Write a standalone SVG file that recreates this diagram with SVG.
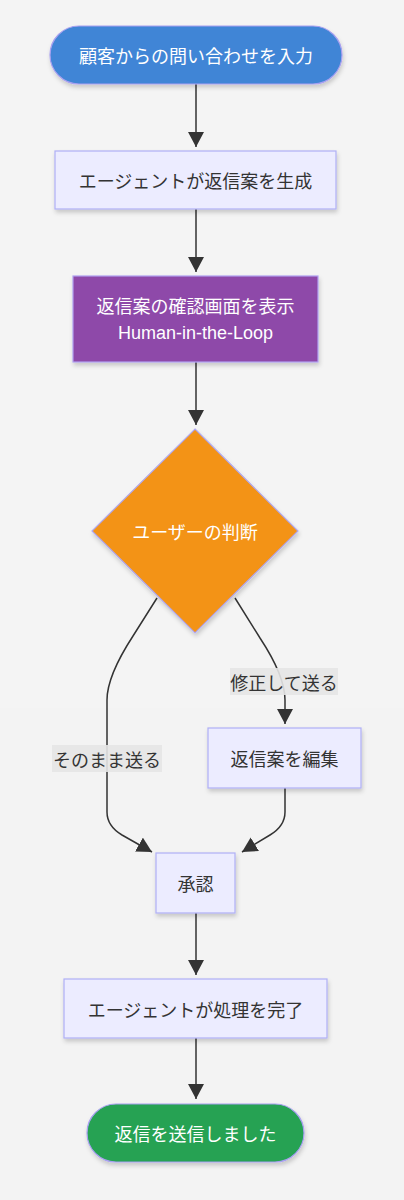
<svg xmlns="http://www.w3.org/2000/svg" width="404" height="1200" viewBox="0 0 404 1200">
<style>
.t{font-family:"Noto Sans CJK JP","Liberation Sans",sans-serif;font-size:18px;text-anchor:middle;dominant-baseline:central}
.lat{font-family:"Liberation Sans","Noto Sans CJK JP",sans-serif;font-size:18px;text-anchor:middle}
.dark{fill:#333333}
.light{fill:#ffffff}
.box{fill:#ececff;stroke:#b0b0f6;stroke-width:1.2}
.edge{fill:none;stroke:#333333;stroke-width:1.5}
.lbl{fill:#e6e6e6;opacity:0.9}
</style>
<defs>
<marker id="arr" markerUnits="userSpaceOnUse" markerWidth="15" markerHeight="16" viewBox="0 0 15 16" refX="15" refY="8" orient="auto">
<path d="M0,0 L15,8 L0,16 z" fill="#333333"/>
</marker>
<filter id="sh" x="-20%" y="-20%" width="140%" height="150%">
<feDropShadow dx="1" dy="3" stdDeviation="2" flood-color="#000" flood-opacity="0.18"/>
</filter>
</defs>
<rect x="0" y="0" width="404" height="708" fill="#f4f4f4"/>
<rect x="0" y="708" width="404" height="492" fill="#f3f3f3"/>

<g id="edges">
<path class="edge" d="M196,84 L196,147" marker-end="url(#arr)"/>
<path class="edge" d="M196,209 L196,272" marker-end="url(#arr)"/>
<path class="edge" d="M196,362 L196,425" marker-end="url(#arr)"/>
<path class="edge" d="M157,598 L133,636 Q107,676 107,700 L107,812 Q107,826 122,835 L152,852" marker-end="url(#arr)"/>
<path class="edge" d="M235,598 L260,638 Q285,676 285,700 L285,724" marker-end="url(#arr)"/>
<path class="edge" d="M285,788 L285,812 Q285,826 270,835 L242,852" marker-end="url(#arr)"/>
<path class="edge" d="M196,913 L196,975" marker-end="url(#arr)"/>
<path class="edge" d="M196,1038 L196,1099" marker-end="url(#arr)"/>
<g id="label-modify">
<rect class="lbl" x="230" y="668" width="108" height="27"/>
<text class="t dark" x="284" y="681.5">修正して送る</text>
</g>
<g id="label-asis">
<rect class="lbl" x="52" y="745" width="110" height="27"/>
<text class="t dark" x="107" y="758.5">そのまま送る</text>
</g>
</g>

<g id="n-input">
<rect x="50" y="26" width="292" height="58" rx="29" ry="29" fill="#4085d6" stroke="#a8a0f0" stroke-width="1.2" filter="url(#sh)"/>
<text class="t light" x="196" y="55">顧客からの問い合わせを入力</text>
</g>

<g id="n-generate">
<rect class="box" x="55" y="151" width="281" height="58" filter="url(#sh)"/>
<text class="t dark" x="195.5" y="180">エージェントが返信案を生成</text>
</g>

<g id="n-review">
<rect x="73" y="276" width="245" height="86" fill="#8e4aa9" stroke="#b0a0f0" stroke-width="1.2" filter="url(#sh)"/>
<text class="t light" x="195.5" y="305">返信案の確認画面を表示</text>
<text class="lat light" x="195.5" y="339">Human-in-the-Loop</text>
</g>

<g id="n-decision">
<polygon points="195,429 298,531 195,633 92,531" fill="#f39316" stroke="#b0a8f0" stroke-width="1.2" filter="url(#sh)"/>
<text class="t light" x="195" y="531">ユーザーの判断</text>
</g>

<g id="n-edit">
<rect class="box" x="208" y="728" width="153" height="60" filter="url(#sh)"/>
<text class="t dark" x="284.5" y="758">返信案を編集</text>
</g>

<g id="n-approve">
<rect class="box" x="156" y="853" width="79" height="60" filter="url(#sh)"/>
<text class="t dark" x="195.5" y="883">承認</text>
</g>

<g id="n-complete">
<rect class="box" x="64" y="979" width="263" height="59" filter="url(#sh)"/>
<text class="t dark" x="195.5" y="1008.5">エージェントが処理を完了</text>
</g>

<g id="n-sent">
<rect x="87" y="1104" width="217" height="58" rx="29" ry="29" fill="#25a252" stroke="#a8a0f0" stroke-width="1.2" filter="url(#sh)"/>
<text class="t light" x="195.5" y="1133">返信を送信しました</text>
</g>
</svg>
